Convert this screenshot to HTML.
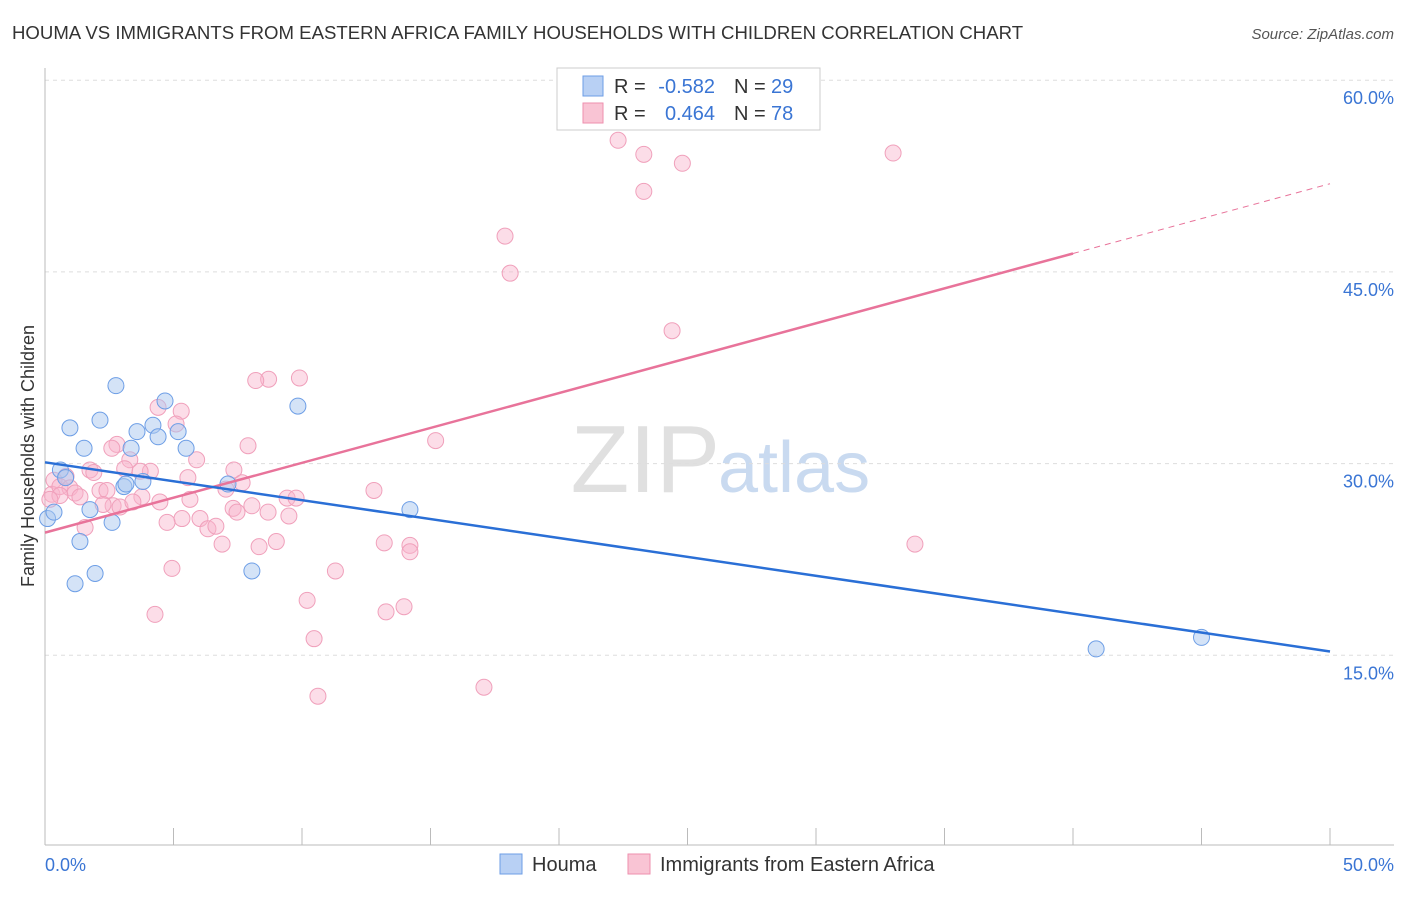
<!DOCTYPE html>
<html><head><meta charset="utf-8"><style>
body{margin:0;background:#fff;font-family:"Liberation Sans",sans-serif}
svg text{font-family:"Liberation Sans",sans-serif}
</style></head><body>
<svg id="chart" width="1406" height="892">
<text x="12" y="39" font-size="18.6" fill="#333">HOUMA VS IMMIGRANTS FROM EASTERN AFRICA FAMILY HOUSEHOLDS WITH CHILDREN CORRELATION CHART</text>
<text x="1394" y="39" font-size="15" fill="#555" font-style="italic" text-anchor="end">Source: ZipAtlas.com</text>
<text x="720" y="492" font-size="96" fill="#e0e0e0" text-anchor="end" font-family="Liberation Serif">ZIP</text>
<text x="718" y="492" font-size="72" fill="#c9daf0">atlas</text>
<g id="grid"></g><g id="axes"></g><g id="marks"></g>
<text transform="translate(34,456) rotate(-90)" font-size="18" fill="#333" text-anchor="middle">Family Households with Children</text>
<g>
<rect x="557" y="68" width="263" height="62" fill="#fff" stroke="#ccc"/>
<rect x="583" y="76" width="20" height="20" fill="#b8d0f4" stroke="#6d9ee6"/>
<rect x="583" y="103" width="20" height="20" fill="#f9c4d4" stroke="#ee8fae"/>
<text x="614" y="93" font-size="20" fill="#333">R =</text>
<text x="715" y="93" font-size="20" fill="#3a75d4" text-anchor="end">-0.582</text>
<text x="734" y="93" font-size="20" fill="#333">N =</text>
<text x="771" y="93" font-size="20" fill="#3a75d4">29</text>
<text x="614" y="120" font-size="20" fill="#333">R =</text>
<text x="715" y="120" font-size="20" fill="#3a75d4" text-anchor="end">0.464</text>
<text x="734" y="120" font-size="20" fill="#333">N =</text>
<text x="771" y="120" font-size="20" fill="#3a75d4">78</text>
</g>
<g>
<rect x="500" y="854" width="22" height="20" fill="#b8d0f4" stroke="#6d9ee6"/>
<text x="532" y="871" font-size="20" fill="#333">Houma</text>
<rect x="628" y="854" width="22" height="20" fill="#f9c4d4" stroke="#ee8fae"/>
<text x="660" y="871" font-size="20" fill="#333">Immigrants from Eastern Africa</text>
</g>
</svg>
<script>
const yTicks=[15,30,45,60];
const xTickLabels=["0.0%","50.0%"];
const houmaX=[0.1,0.35,0.6,0.8,0.97,1.17,1.36,1.52,1.75,1.95,2.14,2.61,2.76,3.07,3.15,3.35,3.58,3.81,4.2,4.4,4.67,5.18,5.49,7.12,8.05,9.84,14.2,40.9,45.0];
const houmaY=[25.7,26.2,29.5,28.9,32.8,20.6,23.9,31.2,26.4,21.4,33.4,25.4,36.1,28.2,28.4,31.2,32.5,28.6,33.0,32.1,34.9,32.5,31.2,28.4,21.6,34.5,26.4,15.5,16.4];
const immX=[22.3,23.3,24.8,33.0,23.3,17.9,18.1,24.4,8.7,8.2,9.9,5.3,4.4,15.2,7.9,2.8,2.6,3.3,5.1,5.9,4.1,3.1,1.75,1.9,0.82,0.35,0.27,0.58,0.97,1.17,1.36,2.14,2.41,2.65,2.26,2.92,3.77,3.42,4.47,5.56,5.64,7.35,7.67,7.04,7.32,7.47,8.05,8.68,9.42,9.77,9.49,5.33,6.03,6.34,6.65,4.75,1.56,6.89,8.33,9.0,13.2,14.2,14.2,12.8,4.94,11.3,10.2,13.97,13.27,4.28,10.47,17.08,10.62,33.85,0.58,0.19,3.7];
const immY=[55.3,54.2,53.5,54.3,51.3,47.8,44.9,40.4,36.6,36.5,36.7,34.1,34.4,31.8,31.4,31.5,31.2,30.3,33.1,30.3,29.4,29.6,29.5,29.3,29.0,28.7,27.6,28.2,28.1,27.7,27.4,27.9,27.9,26.7,26.8,26.6,27.4,27.0,27.0,28.9,27.2,29.5,28.5,28.0,26.5,26.2,26.7,26.2,27.3,27.3,25.9,25.7,25.7,24.9,25.1,25.4,25.0,23.7,23.5,23.9,23.8,23.6,23.1,27.9,21.8,21.6,19.3,18.8,18.4,18.2,16.3,12.5,11.8,23.7,27.5,27.2,29.4];
const blueFit=[30.1,15.3];
const pinkFit=[24.6,51.9];
const X0=45,X1=1330,YB=847,PPY=12.78;
const xs=v=>X0+(X1-X0)*v/50, ys=v=>YB-v*PPY;
const NS="http://www.w3.org/2000/svg";
function mk(t,a,p){const e=document.createElementNS(NS,t);for(const k in a)e.setAttribute(k,a[k]);p.appendChild(e);return e;}
const g=document.getElementById('grid'),ax=document.getElementById('axes'),m=document.getElementById('marks');
yTicks.forEach(t=>{const l=mk('line',{x1:45,x2:1394,y1:ys(t),y2:ys(t),stroke:'#ddd','stroke-dasharray':'4,4'},g);


const tx=mk('text',{x:1394,y:ys(t)+24,'font-size':18,fill:'#3a75d4','text-anchor':'end'},ax);tx.textContent=t.toFixed(1)+'%';

});
mk('line',{x1:45,x2:45,y1:68,y2:845,stroke:'#bbb'},ax);
mk('line',{x1:45,x2:1394,y1:845,y2:845,stroke:'#bbb'},ax);
for(let i=0;i<=10;i++){const x=xs(i*5);const t=mk('line',{x1:x,x2:x,y1:828,y2:845,stroke:'#bbb'},ax);

}
[[0,'start',45],[1,'end',1394]].forEach(([i,a,x])=>{const t=mk('text',{x:x,y:871,'font-size':18,fill:'#3a75d4','text-anchor':a},ax);t.textContent=xTickLabels[i];

});
immX.forEach((v,i)=>{const c=mk('circle',{cx:xs(v),cy:ys(immY[i]),r:8,fill:'rgba(248,180,203,0.45)',stroke:'#f0a0bb','stroke-width':1},m);

});
houmaX.forEach((v,i)=>{const c=mk('circle',{cx:xs(v),cy:ys(houmaY[i]),r:8,fill:'rgba(170,200,240,0.5)',stroke:'#6d9ee6','stroke-width':1},m);

});
const pf=x=>pinkFit[0]+(pinkFit[1]-pinkFit[0])*x/50;
const l1=mk('line',{x1:xs(0),y1:ys(pf(0)),x2:xs(40),y2:ys(pf(40)),stroke:'#e8739a','stroke-width':2.5},m);


const l2=mk('line',{x1:xs(40),y1:ys(pf(40)),x2:xs(50),y2:ys(pf(50)),stroke:'#e8739a','stroke-width':1,'stroke-dasharray':'6,5'},m);


const l3=mk('line',{x1:xs(0),y1:ys(blueFit[0]),x2:xs(50),y2:ys(blueFit[1]),stroke:'#2a6fd6','stroke-width':2.5},m);


</script>
</body></html>
